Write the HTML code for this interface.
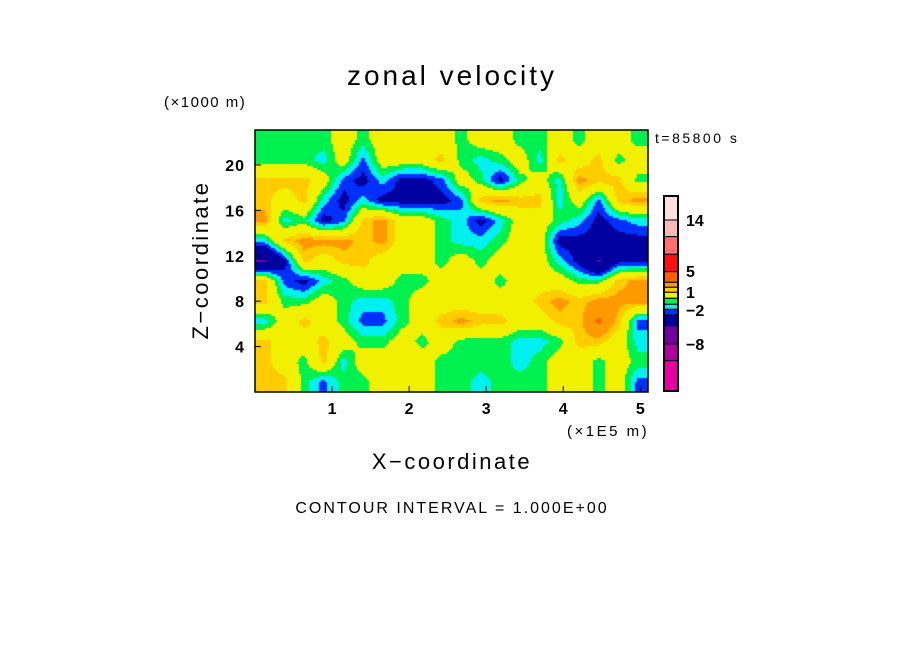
<!DOCTYPE html>
<html><head><meta charset="utf-8">
<style>
body{margin:0;background:#fff;}
#wrap{position:relative;width:904px;height:654px;overflow:hidden;background:#fff;font-family:"Liberation Sans",sans-serif;color:#000;}
.t{position:absolute;white-space:nowrap;}
</style></head>
<body>
<div id="wrap">
<div class="t" style="left:0;width:904px;text-align:center;top:60px;font-size:28px;letter-spacing:3px;">zonal velocity</div>
<div class="t" style="left:164px;top:94px;font-size:15px;letter-spacing:1.5px;">(×1000 m)</div>
<div class="t" style="left:655px;top:130px;font-size:14px;letter-spacing:2.5px;">t=85800 s</div>
<div class="t" style="left:567px;top:423px;font-size:15px;letter-spacing:2.5px;">(×1E5 m)</div>
<div class="t" style="left:0;width:904px;text-align:center;top:449px;font-size:22px;letter-spacing:2.5px;">X−coordinate</div>
<div class="t" style="left:201px;top:260px;font-size:22px;letter-spacing:2.5px;transform:translate(-50%,-50%) rotate(-90deg);">Z−coordinate</div>
<div class="t" style="left:0;width:904px;text-align:center;top:500px;font-size:16px;letter-spacing:2px;">CONTOUR INTERVAL = 1.000E+00</div>
<canvas id="field" width="393" height="262" style="position:absolute;left:255px;top:130px;"></canvas>
<svg id="axes" width="904" height="654" style="position:absolute;left:0;top:0;"></svg>
</div>
<script>
const Y=1,G=-0.5,C=-1.5,B=-2.4,D=-3.6,P=-7.5,O1=2.5,O2=3.5,O3=5.5;
const fieldRows=[
[G,G,G,G,Y,G,Y,Y,Y,Y,G,Y,Y,G,G,Y,G,Y,Y,G],
[G,G,G,C,Y,B,Y,Y,Y,O1,G,C,G,Y,C,O1,Y,O1,G,Y],
[O1,O1,O1,Y,B,D,C,D,D,B,Y,G,D,G,Y,C,O2,O1,O1,G],
[O1,Y,O1,C,D,C,D,D,D,D,B,O1,O2,O1,O1,C,Y,B,O1,O2],
[O2,C,G,D,B,O1,O2,Y,Y,G,C,D,C,Y,Y,G,C,D,B,C],
[C,O1,O2,O2,O2,O1,O2,Y,Y,G,C,C,G,Y,Y,D,D,D,D,D],
[P,D,O1,Y,O1,O1,Y,Y,Y,G,Y,G,Y,Y,Y,C,D,P,D,D],
[O1,B,D,C,G,Y,Y,G,G,Y,Y,Y,G,Y,Y,Y,G,G,O1,O2],
[O1,G,G,Y,G,C,C,G,Y,Y,Y,Y,Y,Y,O1,O2,O1,O2,O2,O2],
[C,Y,O1,Y,G,B,B,G,Y,O1,O2,O1,O1,Y,Y,O1,O1,O3,O1,B],
[O1,Y,Y,O1,Y,G,G,Y,G,Y,G,G,G,C,C,G,O1,O1,Y,C],
[O1,Y,G,O1,C,Y,Y,Y,Y,G,G,G,G,C,G,Y,Y,G,Y,G],
[O1,O1,G,B,G,G,Y,Y,Y,G,G,C,G,G,G,Y,Y,G,Y,B]
];
const levelColors=["#FFE0E0","#FFB8B8","#FF7070","#FF1010","#FF6000","#FF9900","#FFCC00","#F0F000","#00F050","#00F0F0","#0030FF","#0000A0","#7000A0","#B000A0","#E800A0"];
const barBounds=[196,220,236.7,254.3,271.7,282.3,287.3,292.3,298.3,304.3,309.3,315,325.7,344,360.7,391];
const barLabels=[["14",220],["5",271],["1",292],["−2",310],["−8",344]];
const xTicks=[1,2,3,4,5];
const yTicks=[4,8,12,16,20];
const X0=255,X1=648,Y0=392,Y1=130,XMAX=5.1,YMAX=23.08;
const sx=v=>X0+v/XMAX*(X1-X0), sy=v=>Y0-v/YMAX*(Y0-Y1);
function colorFor(v){
  const th=[5,3,2,0,-1,-2,-3,-7,-10];
  const cs=["#FF6000","#FF9900","#FFCC00","#F0F000","#00F050","#00F0F0","#0030FF","#0000A0","#7000A0","#B000A0"];
  if(v>=8)return "#FF1010";
  for(let i=0;i<th.length;i++) if(v>=th[i]) return cs[i];
  return cs[cs.length-1];
}
(function(){
  const cv=document.getElementById('field'),ctx=cv.getContext('2d');
  const W=cv.width,H=cv.height,nr=fieldRows.length,nc=fieldRows[0].length;
  const st=2;
  for(let py=0;py<H;py+=st){
    let fy=(py+st/2)/H*nr-0.5; fy=Math.max(0,Math.min(nr-1,fy));
    const r0=Math.floor(fy),r1=Math.min(nr-1,r0+1),ty=fy-r0;
    for(let px=0;px<W;px+=st){
      let fx=(px+st/2)/W*nc-0.5; fx=Math.max(0,Math.min(nc-1,fx));
      const c0=Math.floor(fx),c1=Math.min(nc-1,c0+1),tx=fx-c0;
      const v=(fieldRows[r0][c0]*(1-tx)+fieldRows[r0][c1]*tx)*(1-ty)+(fieldRows[r1][c0]*(1-tx)+fieldRows[r1][c1]*tx)*ty;
      ctx.fillStyle=colorFor(v);
      ctx.fillRect(px,py,st,st);
    }
  }
})();
const svg=document.getElementById('axes'),NS="http://www.w3.org/2000/svg";
function mk(tag,attrs,txt){const e=document.createElementNS(NS,tag);for(const k in attrs)e.setAttribute(k,attrs[k]);if(txt!==undefined)e.textContent=txt;svg.appendChild(e);return e;}
const frame=mk('rect',{x:X0,y:Y1,width:X1-X0,height:Y0-Y1,fill:'none',stroke:'#000','stroke-width':1.5});


xTicks.forEach(t=>{
  const l=mk('line',{x1:sx(t),x2:sx(t),y1:Y0,y2:Y0-6,stroke:'#000'});
  
  
  const tx=mk('text',{x:sx(t),y:414,'text-anchor':'middle','font-size':16,'font-weight':'bold','font-family':'Liberation Sans, sans-serif'},String(t));
  
  
});
yTicks.forEach(t=>{
  const l=mk('line',{x1:X0,x2:X0+6,y1:sy(t),y2:sy(t),stroke:'#000'});
  
  
  const tx=mk('text',{x:245,y:sy(t)+6,'text-anchor':'end','font-size':16,'font-weight':'bold','letter-spacing':1,'font-family':'Liberation Sans, sans-serif'},String(t));
  
  
});
for(let i=0;i<levelColors.length;i++){
  const r=mk('rect',{x:664,y:barBounds[i],width:14,height:barBounds[i+1]-barBounds[i],fill:levelColors[i],stroke:'#000','stroke-width':1});
  
  
}
const cb=mk('rect',{x:664,y:196,width:14,height:195,fill:'none',stroke:'#000','stroke-width':2});


barLabels.forEach(b=>{
  const tx=mk('text',{x:686,y:b[1]+6,'font-size':16,'font-weight':'bold','font-family':'Liberation Sans, sans-serif'},b[0]);
  
  
});
</script>
</body></html>
